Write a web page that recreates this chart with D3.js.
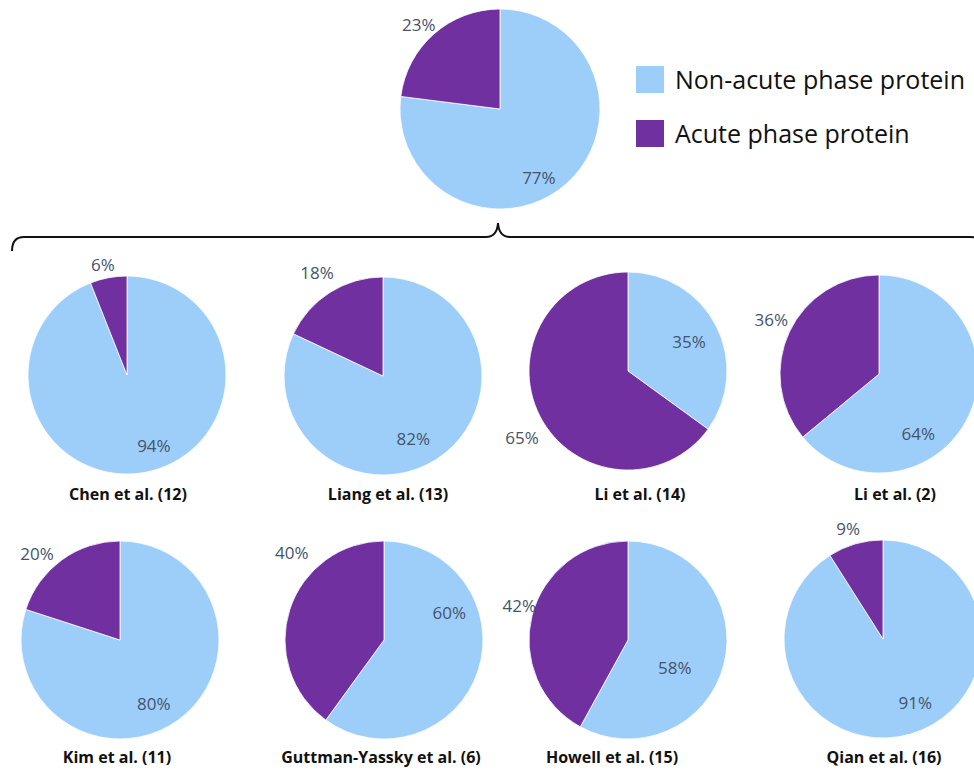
<!DOCTYPE html>
<html lang="en">

<head>
    <meta charset="UTF-8">
    <title>Acute phase proteins by study</title>
    <script src="https://d3js.org/d3.v7.min.js"></script>
    <style>
        body {
            margin: 0;
            background: #fff;
            font-family: 'Open Sans', sans-serif;
        }
    </style>
</head>

<body>
    <svg width="974" height="773"></svg>

    <script>
        // values (percent)
        const studies = ["Overall", "Chen et al. (12)", "Liang et al. (13)", "Li et al. (14)", "Li et al. (2)",
            "Kim et al. (11)", "Guttman-Yassky et al. (6)", "Howell et al. (15)", "Qian et al. (16)"];
        const nonAcute = [77, 94, 82, 35, 64, 80, 60, 58, 91];
        const acute = [23, 6, 18, 65, 36, 20, 40, 42, 9];
        const seriesNames = ["Non-acute phase protein", "Acute phase protein"];

        const colors = ["#9dcefa", "#7030a0"];

        // layout: pie centres, radius, title centres, label polar positions (deg from 12 o'clock, distance)
        const pies = [
            { cx: 500, cy: 109, r: 100 },
            { cx: 127, cy: 375, r: 99, tx: 128, ty: 494 },
            { cx: 383, cy: 376, r: 99, tx: 388, ty: 494 },
            { cx: 628, cy: 371, r: 99, tx: 640, ty: 494 },
            { cx: 879, cy: 374, r: 99, tx: 895, ty: 494 },
            { cx: 120, cy: 640, r: 99, tx: 117, ty: 757 },
            { cx: 384, cy: 640, r: 99, tx: 381, ty: 757 },
            { cx: 628, cy: 640, r: 99, tx: 612, ty: 757 },
            { cx: 883, cy: 639, r: 99, tx: 884, ty: 757 }
        ];
        const labelNon = [[150.5, 79], [159, 75], [154, 69], [64, 68], [146.5, 71], [152, 72], [67, 71], [120, 54], [153, 71]];
        const labelAcute = [[-44, 117], [-12.3, 113], [-32.4, 123], [238, 125], [-63, 121], [-43.7, 120], [-46.6, 127], [-72.4, 114], [-17.5, 116]];

        const svg = d3.select("svg");

        const pie = d3.pie().sort(null).value(d => d);

        function polar(deg, dist) {
            const a = deg * Math.PI / 180;
            return [Math.sin(a) * dist, -Math.cos(a) * dist];
        }

        studies.forEach((name, i) => {
            const p = pies[i];
            const g = svg.append("g").attr("transform", `translate(${p.cx},${p.cy})`);
            const arc = d3.arc().innerRadius(0).outerRadius(p.r);

            g.selectAll("path")
                .data(pie([nonAcute[i], acute[i]]))
                .join("path")
                .attr("d", arc)
                .attr("fill", (d, j) => colors[j])
                .attr("stroke", "#fff")
                .attr("stroke-width", 0.8);

            const labels = [[nonAcute[i], labelNon[i]], [acute[i], labelAcute[i]]];
            g.selectAll("text.pct")
                .data(labels)
                .join("text")
                .attr("class", "pct")
                .attr("x", d => polar(d[1][0], d[1][1])[0])
                .attr("y", d => polar(d[1][0], d[1][1])[1])
                .attr("text-anchor", "middle")
                .attr("dominant-baseline", "central")
                .attr("font-size", 17)
                .attr("fill", "#44546a")
                .text(d => d[0] + "%");

            if (i > 0) {
                svg.append("text")
                    .attr("x", p.tx)
                    .attr("y", p.ty)
                    .attr("text-anchor", "middle")
                    .attr("dominant-baseline", "central")
                    .attr("font-size", 16)
                    .attr("font-weight", "bold")
                    .attr("fill", "#111")
                    .text(name);
            }
        });

        // legend
        const legend = svg.append("g").attr("transform", "translate(636,66)");
        seriesNames.forEach((s, j) => {
            legend.append("rect")
                .attr("x", 0).attr("y", j * 54)
                .attr("width", 28).attr("height", 27)
                .attr("fill", colors[j]);
            legend.append("text")
                .attr("x", 39).attr("y", j * 54 + 13)
                .attr("dominant-baseline", "central")
                .attr("font-size", 25)
                .attr("fill", "#111")
                .text(s);
        });

        // brace joining the overall pie to the studies
        svg.append("path")
            .attr("d", "M12,251 Q12,237 24,237 L486,237 Q497,237 498,223 Q499,237 510,237 L970,237 Q984,237 984,251")
            .attr("fill", "none")
            .attr("stroke", "#111")
            .attr("stroke-width", 2);
    </script>
</body>

</html>
